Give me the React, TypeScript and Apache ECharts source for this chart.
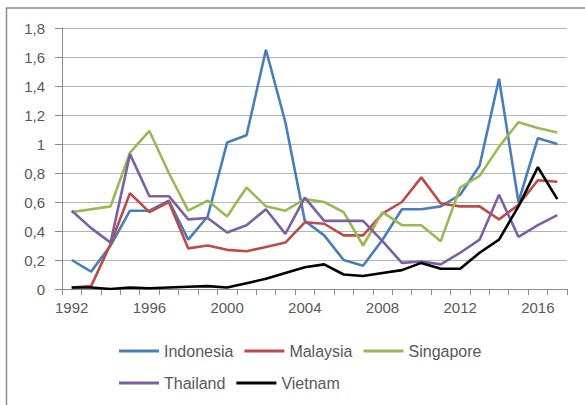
import React, { useEffect, useRef } from "react";
import * as echarts from "echarts";

const years = ["1992","1993","1994","1995","1996","1997","1998","1999","2000","2001","2002","2003","2004","2005","2006","2007","2008","2009","2010","2011","2012","2013","2014","2015","2016","2017"];
const indonesia = [0.20, 0.12, 0.30, 0.54, 0.54, 0.61, 0.34, 0.50, 1.01, 1.06, 1.65, 1.15, 0.47, 0.37, 0.20, 0.16, 0.34, 0.55, 0.55, 0.57, 0.65, 0.85, 1.45, 0.60, 1.04, 1.00];
const malaysia = [0.01, 0.02, 0.31, 0.66, 0.53, 0.60, 0.28, 0.30, 0.27, 0.26, 0.29, 0.32, 0.46, 0.45, 0.37, 0.37, 0.52, 0.60, 0.77, 0.59, 0.57, 0.57, 0.48, 0.58, 0.75, 0.74];
const singapore = [0.53, 0.55, 0.57, 0.94, 1.09, 0.80, 0.54, 0.61, 0.50, 0.70, 0.57, 0.54, 0.62, 0.60, 0.53, 0.30, 0.53, 0.44, 0.44, 0.33, 0.70, 0.78, 0.98, 1.15, 1.11, 1.08];
const thailand = [0.54, 0.42, 0.32, 0.93, 0.64, 0.64, 0.48, 0.49, 0.39, 0.44, 0.55, 0.38, 0.63, 0.47, 0.47, 0.47, 0.33, 0.18, 0.19, 0.17, 0.25, 0.34, 0.65, 0.36, 0.44, 0.51];
const vietnam = [0.01, 0.01, 0.00, 0.01, 0.005, 0.01, 0.015, 0.02, 0.01, 0.04, 0.07, 0.11, 0.15, 0.17, 0.10, 0.09, 0.11, 0.13, 0.18, 0.14, 0.14, 0.25, 0.34, 0.57, 0.84, 0.62];

const seriesNames = ["Indonesia", "Malaysia", "Singapore", "Thailand", "Vietnam"];
const seriesData = [indonesia, malaysia, singapore, thailand, vietnam];
const colors = ["#4A7EBB", "#BE4B48", "#98B954", "#7D60A0", "#000000"];

export default function App() {
  const ref = useRef<HTMLDivElement>(null);
  useEffect(() => {
    document.body.style.margin = "0";
    const chart = echarts.init(ref.current!, null, { renderer: "svg" });
    const font = "'Liberation Sans', Arial, sans-serif";
    chart.setOption({
      animation: false,
      backgroundColor: "#ffffff",
      graphic: [
        {
          type: "rect",
          shape: { x: 6.5, y: 8, width: 600, height: 420 },
          style: { fill: "none", stroke: "#8c8c8c", lineWidth: 1.5 },
          silent: true,
        },
      ],
      grid: { left: 62, right: 18, top: 28, bottom: 116 },
      legend: [
        {
          data: seriesNames.slice(0, 3),
          left: 119,
          top: 343,
          padding: 0,
          itemGap: 11,
          itemWidth: 40,
          itemHeight: 3,
          icon: "rect",
          textStyle: { fontFamily: font, fontSize: 16, color: "#595959" },
        },
        {
          data: seriesNames.slice(3),
          left: 119,
          top: 375,
          padding: 0,
          itemGap: 11,
          itemWidth: 40,
          itemHeight: 3,
          icon: "rect",
          textStyle: { fontFamily: font, fontSize: 16, color: "#595959" },
        },
      ],
      xAxis: {
        type: "category",
        data: years,
        boundaryGap: true,
        axisLine: { lineStyle: { color: "#8c8c8c", width: 1 } },
        axisTick: { show: true, interval: 0, length: 6, lineStyle: { color: "#8c8c8c" } },
        axisLabel: {
          interval: 3,
          margin: 11,
          fontFamily: font,
          fontSize: 15,
          color: "#595959",
        },
        splitLine: { show: false },
      },
      yAxis: {
        type: "value",
        min: 0,
        max: 1.8,
        interval: 0.2,
        axisLine: { show: true, lineStyle: { color: "#8c8c8c", width: 1 } },
        axisTick: { show: true, length: 7, lineStyle: { color: "#8c8c8c" } },
        axisLabel: {
          margin: 17,
          fontFamily: font,
          fontSize: 15,
          color: "#595959",
          formatter: (v: number) => String(Number(v.toFixed(1))).replace(".", ","),
        },
        splitLine: { show: true, lineStyle: { color: "#b4b4b4", width: 1 } },
      },
      series: seriesNames.map((name, i) => ({
        name,
        type: "line",
        data: seriesData[i],
        showSymbol: false,
        symbol: "none",
        color: colors[i],
        lineStyle: { color: colors[i], width: 2.6 },
        itemStyle: { color: colors[i] },
        z: 2 + i,
      })),
    });
    return () => chart.dispose();
  }, []);
  return <div ref={ref} style={{ width: 585, height: 405 }} />;
}
